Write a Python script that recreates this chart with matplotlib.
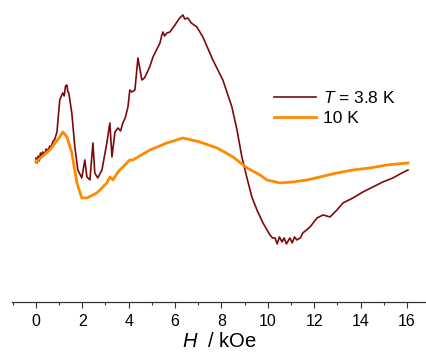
import matplotlib
matplotlib.use("Agg")
import matplotlib.pyplot as plt
from matplotlib.ticker import MultipleLocator

plt.rcParams["font.family"] = ["Liberation Sans", "DejaVu Sans"]
plt.rcParams["mathtext.fontset"] = "custom"
plt.rcParams["mathtext.it"] = "Liberation Sans:italic"
plt.rcParams["mathtext.rm"] = "Liberation Sans"

# field in kOe, signal in arbitrary units
h_38K = [0.00, 0.05, 0.10, 0.15, 0.20, 0.25, 0.30, 0.38, 0.45, 0.52, 0.60, 0.66,
         0.73, 0.82, 0.91, 0.97, 1.03, 1.10, 1.16, 1.22, 1.28, 1.34, 1.38, 1.42,
         1.55, 1.68, 1.81, 1.98, 2.11, 2.20, 2.33, 2.46, 2.54, 2.67, 2.85, 3.06,
         3.19, 3.28, 3.41, 3.54, 3.65, 3.75, 3.85, 3.97, 4.05, 4.14, 4.27, 4.40,
         4.57, 4.68, 4.79, 4.92, 5.05, 5.20, 5.35, 5.42, 5.48, 5.55, 5.65, 5.78,
         5.90, 6.00, 6.08, 6.20, 6.34, 6.42, 6.55, 6.70, 6.94, 7.20, 7.63, 8.06,
         8.45, 8.67, 8.88, 9.10, 9.31, 9.53, 9.79, 10.09, 10.20, 10.31, 10.40,
         10.50, 10.61, 10.70, 10.80, 10.95, 11.05, 11.15, 11.25, 11.40, 11.51,
         11.82, 12.12, 12.38, 12.68, 12.98, 13.24, 13.67, 14.10, 14.53, 14.96,
         15.39, 15.78, 16.04]
s_38K = [0.00, -0.05, 0.02, -0.03, 0.05, 0.02, 0.06, 0.04, 0.09, 0.07, 0.12, 0.11,
         0.16, 0.19, 0.26, 0.42, 0.58, 0.62, 0.65, 0.62, 0.72, 0.73, 0.66, 0.65,
         0.45, 0.11, -0.12, -0.20, -0.02, -0.19, -0.22, 0.15, -0.15, -0.20, -0.12,
         0.15, 0.35, 0.01, 0.26, 0.30, 0.27, 0.35, 0.40, 0.51, 0.68, 0.66, 0.68,
         1.00, 0.78, 0.80, 0.85, 0.92, 1.01, 1.08, 1.15, 1.22, 1.26, 1.22, 1.25,
         1.26, 1.30, 1.33, 1.36, 1.40, 1.43, 1.39, 1.40, 1.35, 1.31, 1.21, 0.98,
         0.78, 0.51, 0.28, 0.01, -0.20, -0.39, -0.52, -0.65, -0.77, -0.80, -0.80,
         -0.86, -0.79, -0.84, -0.80, -0.86, -0.80, -0.85, -0.79, -0.82, -0.80,
         -0.75, -0.69, -0.60, -0.57, -0.59, -0.52, -0.45, -0.40, -0.34, -0.29,
         -0.24, -0.20, -0.15, -0.12]

h_10K = [0.00, 0.60, 1.03, 1.16, 1.34, 1.55, 1.77, 1.98, 2.20, 2.63, 3.06, 3.19,
         3.32, 3.54, 3.62, 4.05, 4.18, 4.92, 5.65, 6.34, 7.07, 7.81, 8.50, 9.10,
         9.66, 9.96, 10.52, 11.08, 11.69, 12.25, 12.98, 13.67, 14.40, 15.14, 16.04]
s_10K = [-0.04, 0.08, 0.21, 0.26, 0.21, 0.05, -0.25, -0.40, -0.40, -0.35, -0.25,
         -0.19, -0.22, -0.14, -0.12, -0.02, -0.02, 0.08, 0.15, 0.20, 0.16, 0.10,
         0.01, -0.10, -0.17, -0.22, -0.25, -0.24, -0.22, -0.19, -0.15, -0.12,
         -0.10, -0.07, -0.05]

fig = plt.figure(figsize=(4.27, 3.59), dpi=100)
ax = fig.add_axes([0.028, 0.159, 0.972, 0.841])

ax.plot(h_38K, s_38K, color="#7d0a0a", lw=1.2, label="$T$ = 3.8 K")
ax.plot(h_10K, s_10K, color="#ff8a00", lw=2.0, label="10 K")

ax.set_xlim(-1.03, 16.86)
ax.set_ylim(-1.44, 1.58)

for side in ["left", "right", "top"]:
    ax.spines[side].set_visible(False)
ax.spines["bottom"].set_color("#333333")
ax.spines["bottom"].set_linewidth(0.9)
ax.set_yticks([])
ax.xaxis.set_major_locator(MultipleLocator(2))
ax.xaxis.set_minor_locator(MultipleLocator(1))
ax.tick_params(axis="x", which="major", length=4.5, width=0.8, labelsize=11.5,
               pad=4, colors="#333333", labelcolor="black")
ax.tick_params(axis="x", which="minor", length=2.5, width=0.8, colors="#333333")
ax.set_xlabel("$H$  / kOe", fontsize=14.5, labelpad=2)

ax.legend(loc="upper left", bbox_to_anchor=(0.615, 0.725), frameon=False,
          fontsize=12.5, handlelength=2.4, handletextpad=0.4, labelspacing=0.3,
          borderaxespad=0.0)

fig.savefig("out.png", dpi=100)
